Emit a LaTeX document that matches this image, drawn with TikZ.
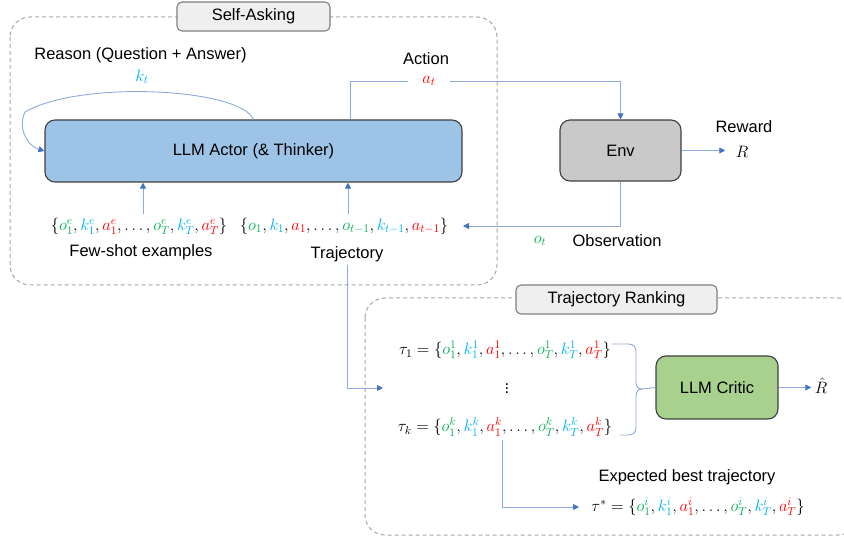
\RequirePackage{fix-cm}
\documentclass[tikz,border=0pt]{standalone}
\usepackage[no-math]{fontspec}
\setmainfont{Liberation Sans}
\usetikzlibrary{arrows.meta,calc}
\definecolor{og}{HTML}{00B050}
\definecolor{kc}{HTML}{00B0F0}
\definecolor{ar}{HTML}{FF0000}
\definecolor{lnc}{HTML}{8EA9DB}
\definecolor{arc}{HTML}{4472C4}
\definecolor{grpc}{HTML}{A6A6A6}
\definecolor{tagc}{HTML}{7F7F7F}
\definecolor{tagf}{HTML}{EFEFEF}
\definecolor{blk}{HTML}{404040}
\definecolor{actf}{HTML}{9DC3E6}
\definecolor{envf}{HTML}{C9C9C9}
\definecolor{crf}{HTML}{A9D18E}
\newcommand{\Og}[1]{\textcolor{og}{#1}}
\newcommand{\Kc}[1]{\textcolor{kc}{#1}}
\newcommand{\Ar}[1]{\textcolor{ar}{#1}}
\begin{document}
\begin{tikzpicture}[x=1pt,y=-1pt,
 every node/.style={font=\fontsize{16.5}{19}\selectfont},
 conn/.style={draw=lnc, line width=0.9pt},
 arr/.style={conn, -{Triangle[length=6pt,width=6pt,fill=arc,color=arc]}},
 grp/.style={draw=grpc, dash pattern=on 4pt off 3pt, line width=1pt, rounded corners=20pt},
 tagbox/.style={draw=tagc, fill=tagf, rounded corners=5pt, line width=1.1pt, minimum width=153pt, minimum height=29pt, inner sep=0pt},
 block/.style={draw=blk, rounded corners=10pt, line width=1.1pt, inner sep=0pt}]

\useasboundingbox (0,0) rectangle (844,537);

% groups
\draw[grp] (10,17) rectangle (497,285);
\node[tagbox] (selfask) at (253.5,16.5) {Self-Asking};
\begin{scope}
\clip (0,0) rectangle (844,537);
\draw[grp] (365,298) rectangle (858,535);
\end{scope}
\node[tagbox, minimum width=201pt] (rank) at (616.5,299.5) {Trajectory Ranking};

% blocks
\node[block, fill=actf, minimum width=417pt, minimum height=62pt] (actor) at (253.5,151) {LLM Actor (\& Thinker)};
\node[block, fill=envf, minimum width=121pt, minimum height=61pt] (env) at (620.5,150.5) {Env};
\node[block, fill=crf, minimum width=122pt, minimum height=63pt] (critic) at (717,387.5) {LLM Critic};

% reason loop
\node (reason) at (140.5,55) {Reason (Question + Answer)};
\node (kt) at (142,77) {$\Kc{k_t}$};
\draw[arr] (actor.north) .. controls (240,88) and (80,80) .. (25,112) .. controls (18,125) and (25,145) .. (actor.west);

% action
\node (action) at (426,59) {Action};
\node[minimum width=42pt] (at) at (429,81) {$\Ar{a_t}$};
\coordinate (actx) at (350,0);
\draw[conn] (actor.north -| actx) |- (at.west);
\draw[arr] (at.east) -| (env.north);

% reward
\node (reward) at (744,127) {Reward};
\node (R) at (742,152) {$R$};
\draw[arr, shorten >=7pt] (env.east) -- (env.east -| R.west);

% observation
\coordinate (obsin) at (463,226);
\draw[arr] (env.south) |- (obsin);
\node (ot) at (540,241) {$\Og{o_t}$};
\node (obs) at (617,241) {Observation};

% sets
\node (fewset) at (139,226) {$\{\Og{o_1^e},\Kc{k_1^e},\Ar{a_1^e},\ldots,\Og{o_T^e},\Kc{k_T^e},\Ar{a_T^e}\}$};
\node (trajset) at (344,226) {$\{\Og{o_1},\Kc{k_1},\Ar{a_1},\ldots,\Og{o_{t-1}},\Kc{k_{t-1}},\Ar{a_{t-1}}\}$};
\node (fewlbl) at (141,252) {Few-shot examples};
\node (trajlbl) at (347,254) {Trajectory};
\coordinate (fx) at (143,0);
\draw[arr] (fx |- fewset.north) -- (fx |- actor.south);
\coordinate (tx) at (348,0);
\draw[arr] (tx |- trajset.north) -- (tx |- actor.south);

% to ranking
\coordinate (rankin) at (383,388);
\draw[arr] (trajlbl.south) |- (rankin);

% ranking content
\node (tau1) at (505,350) {$\tau_1=\{\Og{o_1^1},\Kc{k_1^1},\Ar{a_1^1},\ldots,\Og{o_T^1},\Kc{k_T^1},\Ar{a_T^1}\}$};
\node (vd) at (507,386) {$\vdots$};
\node (tauk) at (505,427) {$\tau_k=\{\Og{o_1^k},\Kc{k_1^k},\Ar{a_1^k},\ldots,\Og{o_T^k},\Kc{k_T^k},\Ar{a_T^k}\}$};
\coordinate (btip) at (642,389);
\draw[conn] (612,344) -- (628,344) .. controls (634,344) and (636,347) .. (636,352) -- (636,382)
  .. controls (636,386) and (638,389) .. (btip);
\draw[conn] (620,435) -- (628,435) .. controls (634,435) and (636,432) .. (636,427) -- (636,396)
  .. controls (636,392) and (638,389) .. (btip);
\draw[conn] (btip) -- (critic.west);
\node (Rhat) at (821,386) {$\hat{R}$};
\draw[arr] (critic.east) -- (critic.east -| Rhat.west);

% best trajectory
\node (explbl) at (687,477) {Expected best trajectory};
\node (taustar) at (698,507) {$\tau^*=\{\Og{o_1^i},\Kc{k_1^i},\Ar{a_1^i},\ldots,\Og{o_T^i},\Kc{k_T^i},\Ar{a_T^i}\}$};
\coordinate (bx) at (502,0);
\coordinate (bestin) at (579,507);
\draw[arr] (bx |- tauk.south) |- (bestin);
\end{tikzpicture}
\end{document}
